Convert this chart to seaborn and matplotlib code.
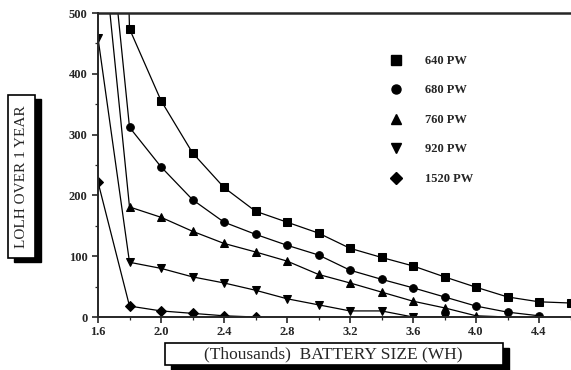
import matplotlib
matplotlib.use("Agg")
import matplotlib.pyplot as plt
from matplotlib.lines import Line2D
from matplotlib.patches import Rectangle
from matplotlib.ticker import MultipleLocator
import seaborn as sns
import pandas as pd

# ---------------------------------- data ----------------------------------
# battery size in thousands of WH, LOLH over one year; first points run off the top of the chart
x_640 = [1.6, 1.8, 2.0, 2.2, 2.4, 2.6, 2.8, 3.0, 3.2, 3.4, 3.6, 3.8, 4.0, 4.2, 4.4, 4.6]
lolh_640 = [2500, 474, 356, 270, 213, 174, 156, 138, 113, 98, 84, 66, 49, 33, 25, 23]

x_680 = [1.6, 1.8, 2.0, 2.2, 2.4, 2.6, 2.8, 3.0, 3.2, 3.4, 3.6, 3.8, 4.0, 4.2, 4.4]
lolh_680 = [824, 312, 247, 193, 156, 136, 118, 102, 77, 62, 48, 33, 18, 8, 2]

x_760 = [1.6, 1.8, 2.0, 2.2, 2.4, 2.6, 2.8, 3.0, 3.2, 3.4, 3.6, 3.8, 4.0, 4.2]
lolh_760 = [695, 181, 164, 141, 121, 107, 92, 70, 56, 41, 26, 15, 2, 0]

x_920 = [1.6, 1.8, 2.0, 2.2, 2.4, 2.6, 2.8, 3.0, 3.2, 3.4, 3.6, 3.8]
lolh_920 = [459, 90, 80, 66, 56, 44, 30, 20, 10, 10, 0, 0]

x_1520 = [1.6, 1.8, 2.0, 2.2, 2.4, 2.6]
lolh_1520 = [222, 18, 10, 6, 2, 0]

loads = ["640 PW", "680 PW", "760 PW", "920 PW", "1520 PW"]
markers = ["s", "o", "^", "v", "D"]
x_ticks = [1.6, 2.0, 2.4, 2.8, 3.2, 3.6, 4.0, 4.4]
x_tick_labels = ["1.6", "2.0", "2.4", "2.8", "3.2", "3.6", "4.0", "4.4"]
y_ticks = [0, 100, 200, 300, 400, 500]

frames = []
for name, xs, ys in zip(loads,
                        [x_640, x_680, x_760, x_920, x_1520],
                        [lolh_640, lolh_680, lolh_760, lolh_920, lolh_1520]):
    frames.append(pd.DataFrame({"battery": xs, "lolh": ys, "load": name}))
df = pd.concat(frames, ignore_index=True)

# ---------------------------------- plot ----------------------------------
sns.set_style("ticks")
plt.rcParams['font.family'] = ['Liberation Serif', 'DejaVu Serif']

fig = plt.figure(figsize=(5.71, 3.70), dpi=100)
ax = fig.add_axes([98 / 571, 1 - 317 / 370, (570.5 - 98) / 571, 304 / 370])

sns.lineplot(data=df, x="battery", y="lolh", hue="load", style="load",
             hue_order=loads, style_order=loads,
             palette=["black"] * len(loads), markers=dict(zip(loads, markers)),
             dashes=False, legend=False, linewidth=0.9, markersize=5.5,
             markeredgecolor="black", ax=ax)

ax.set_xlim(1.6, 4.6)
ax.set_ylim(0, 500)
ax.set_xticks(x_ticks)
ax.set_xticklabels(x_tick_labels)
ax.set_yticks(y_ticks)
ax.xaxis.set_minor_locator(MultipleLocator(0.2))
ax.yaxis.set_minor_locator(MultipleLocator(50))
ax.tick_params(which="major", length=4.5, width=1.2, pad=3, labelsize=9)
ax.tick_params(axis="x", which="major", pad=2)
ax.tick_params(which="minor", length=2.5, width=0.9)
for lab in ax.get_xticklabels() + ax.get_yticklabels():
    lab.set_fontweight("bold")
ax.set_xlabel("")
ax.set_ylabel("")

for side in ["left", "bottom"]:
    ax.spines[side].set_linewidth(1.4)
ax.spines["top"].set_linewidth(1.8)
ax.spines["right"].set_visible(False)

# legend: markers only, no frame
handles = [Line2D([], [], marker=m, color="black", linestyle="None", markersize=6.5)
           for m in markers]
ax.legend(handles, loads, loc="upper left", bbox_to_anchor=(0.615, 0.862),
          frameon=False, borderpad=0, borderaxespad=0, handlelength=1.2,
          handletextpad=1.7, labelspacing=1.4,
          prop={"family": "Liberation Serif", "weight": "bold", "size": 9})

# boxed axis titles with a drop shadow, as in the scan
def boxed(x0, y0, w, h, dx, dy):
    fig.patches.append(Rectangle((x0 + dx, y0 - dy), w, h, transform=fig.transFigure,
                                 facecolor="black", edgecolor="black", zorder=1))
    fig.patches.append(Rectangle((x0, y0), w, h, transform=fig.transFigure,
                                 facecolor="white", edgecolor="black", linewidth=1.2, zorder=2))

boxed(8 / 571, 1 - 258 / 370, 27 / 571, 163 / 370, 6 / 571, 4 / 370)
fig.text(22 / 571, 1 - 177 / 370, "LOLH OVER 1 YEAR", rotation=90,
         ha="center", va="center", fontsize=11, zorder=3)

boxed(165 / 571, 1 - 365 / 370, 338 / 571, 22 / 370, 6 / 571, 5 / 370)
fig.text(333 / 571, 1 - 354 / 370, "(Thousands)  BATTERY SIZE (WH)",
         ha="center", va="center", fontsize=12.5, zorder=3)

fig.savefig("out.png", dpi=100)
